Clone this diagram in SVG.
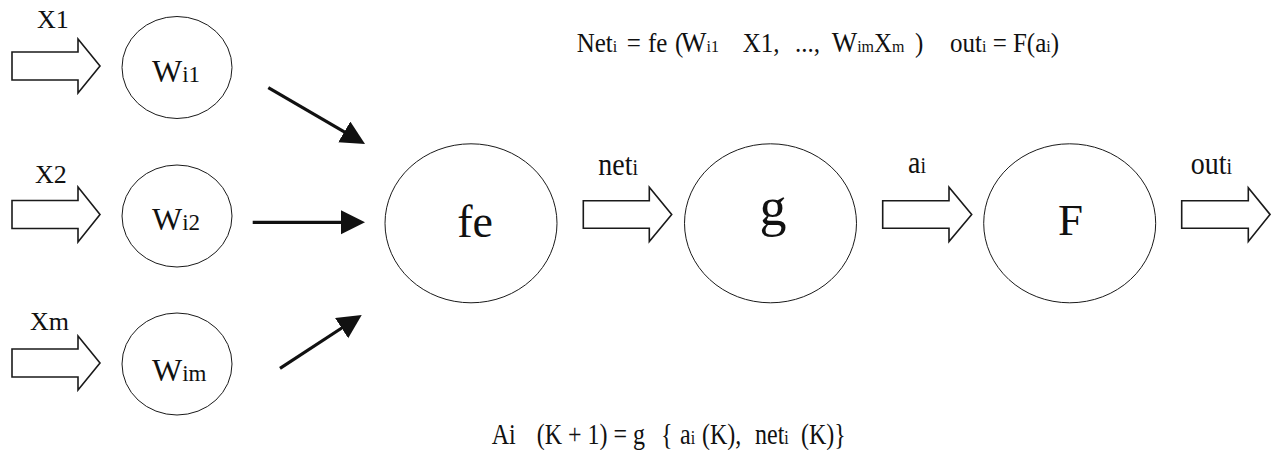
<svg xmlns="http://www.w3.org/2000/svg" width="1271" height="450" viewBox="0 0 1271 450">
<style>
  .bg { fill: #ffffff; }
  .node { fill: #ffffff; stroke: #1a1a1a; stroke-width: 1; }
  .blk { fill: #ffffff; stroke: #1a1a1a; stroke-width: 1.6; stroke-linejoin: miter; }
  .conn { stroke: #111111; stroke-width: 3.2; fill: none; marker-end: url(#ah); }
  .t { font-family: 'Liberation Serif', 'Times New Roman', Times, serif; fill: #111111; }
  .lbl { font-size: 26px; }
  .w { font-size: 32px; }
  .ws { font-size: 23px; }
  .big { text-anchor: middle; }
  .f25 { font-size: 25px; }
  .s16 { font-size: 16px; }
  .lab { font-size: 28px; }
  .s20 { font-size: 20px; }
</style>
<defs>
  <marker id="ah" markerUnits="userSpaceOnUse" markerWidth="26" markerHeight="26" refX="2" refY="12" orient="auto">
    <path d="M0,0 L24,12 L0,24 Z" fill="#111111"/>
  </marker>
</defs>
<rect class="bg" x="0" y="0" width="1271" height="450"/>

<g id="input-x1">
  <polygon class="blk" points="12,52 78,52 78,39 100,66 78,93 78,80 12,80"/>
  <text class="t lbl" x="37" y="28">X1</text>
</g>
<g id="input-x2">
  <polygon class="blk" points="12,200.5 78,200.5 78,187 100,214.5 78,242 78,228.5 12,228.5"/>
  <text class="t lbl" x="35" y="183">X2</text>
</g>
<g id="input-xm">
  <polygon class="blk" points="12,349 78,349 78,336 100,363 78,390 78,377 12,377"/>
  <text class="t lbl" x="30" y="330">Xm</text>
</g>

<g id="node-wi1">
  <ellipse class="node" cx="177" cy="67.5" rx="55" ry="51"/>
  <text class="t" x="152" y="82"><tspan class="w">W</tspan><tspan class="ws">i1</tspan></text>
</g>
<g id="node-wi2">
  <ellipse class="node" cx="177" cy="216" rx="55" ry="51"/>
  <text class="t" x="152" y="230"><tspan class="w">W</tspan><tspan class="ws">i2</tspan></text>
</g>
<g id="node-wim">
  <ellipse class="node" cx="177" cy="364" rx="55" ry="51"/>
  <text class="t" x="152" y="381"><tspan class="w">W</tspan><tspan class="ws">im</tspan></text>
</g>

<g id="connectors">
  <line class="conn" x1="268.3" y1="87.7" x2="346" y2="132.9"/>
  <line class="conn" x1="252.7" y1="222.3" x2="343" y2="222.3"/>
  <line class="conn" x1="280" y1="368.3" x2="343.3" y2="327"/>
  <polygon class="blk" points="583.3,200.7 649.3,200.7 649.3,187.3 671.7,214.4 649.3,241.5 649.3,228.3 583.3,228.3"/>
  <polygon class="blk" points="882.7,200.7 949,200.7 949,187.3 971.7,214.4 949,241.5 949,228.3 882.7,228.3"/>
  <polygon class="blk" points="1181.7,200.7 1248.3,200.7 1248.3,187.7 1270,214.4 1248.3,241.5 1248.3,228.3 1181.7,228.3"/>
  <text class="t" transform="matrix(1,0,0,1.12,0,175)" x="598.3" y="0"><tspan class="lab">net</tspan><tspan class="s20">i</tspan></text>
  <text class="t" transform="matrix(1,0,0,1.12,0,173)" x="908" y="0"><tspan class="lab">a</tspan><tspan class="s20">i</tspan></text>
  <text class="t" transform="matrix(1,0,0,1.12,0,174.3)" x="1190.7" y="0"><tspan class="lab">out</tspan><tspan class="s20">i</tspan></text>
</g>

<g id="node-fe">
  <ellipse class="node" cx="471" cy="223.3" rx="86" ry="79.5"/>
  <text class="t big" x="475" y="237" font-size="46">fe</text>
</g>
<g id="node-g">
  <ellipse class="node" cx="770.5" cy="223.3" rx="86" ry="79.5"/>
  <text class="t big" x="773" y="225" font-size="54">g</text>
</g>
<g id="node-F">
  <ellipse class="node" cx="1069.7" cy="223.3" rx="86" ry="79.5"/>
  <text class="t big" x="1070.5" y="235" font-size="45">F</text>
</g>

<g id="formula-top">
  <text class="t f25" transform="matrix(1,0,0,1.1,0,52)" y="0"><tspan x="576.7">Net</tspan><tspan class="s16">i</tspan><tspan x="626.7">=</tspan><tspan x="648">fe</tspan><tspan x="675">(</tspan><tspan x="681" font-size="27">W</tspan><tspan class="s16">i1</tspan><tspan x="742.7">X1,</tspan><tspan x="795">...,</tspan><tspan x="831.7" font-size="27">W</tspan><tspan class="s16">im</tspan><tspan>X</tspan><tspan class="s16">m</tspan><tspan x="915">)</tspan><tspan x="950">out</tspan><tspan class="s16">i</tspan><tspan> = F(a</tspan><tspan class="s16">i</tspan><tspan>)</tspan></text>
</g>

<g id="formula-bottom">
  <text class="t" transform="matrix(1,0,0,1.2,0,444)" y="0" font-size="24"><tspan x="491.7">Ai</tspan><tspan x="536.7">(K + 1) = g</tspan><tspan x="661">{</tspan><tspan x="680">a</tspan><tspan class="s16">i</tspan><tspan x="702">(K),</tspan><tspan x="755">net</tspan><tspan class="s16">i</tspan><tspan x="801">(K)}</tspan></text>
</g>
</svg>
